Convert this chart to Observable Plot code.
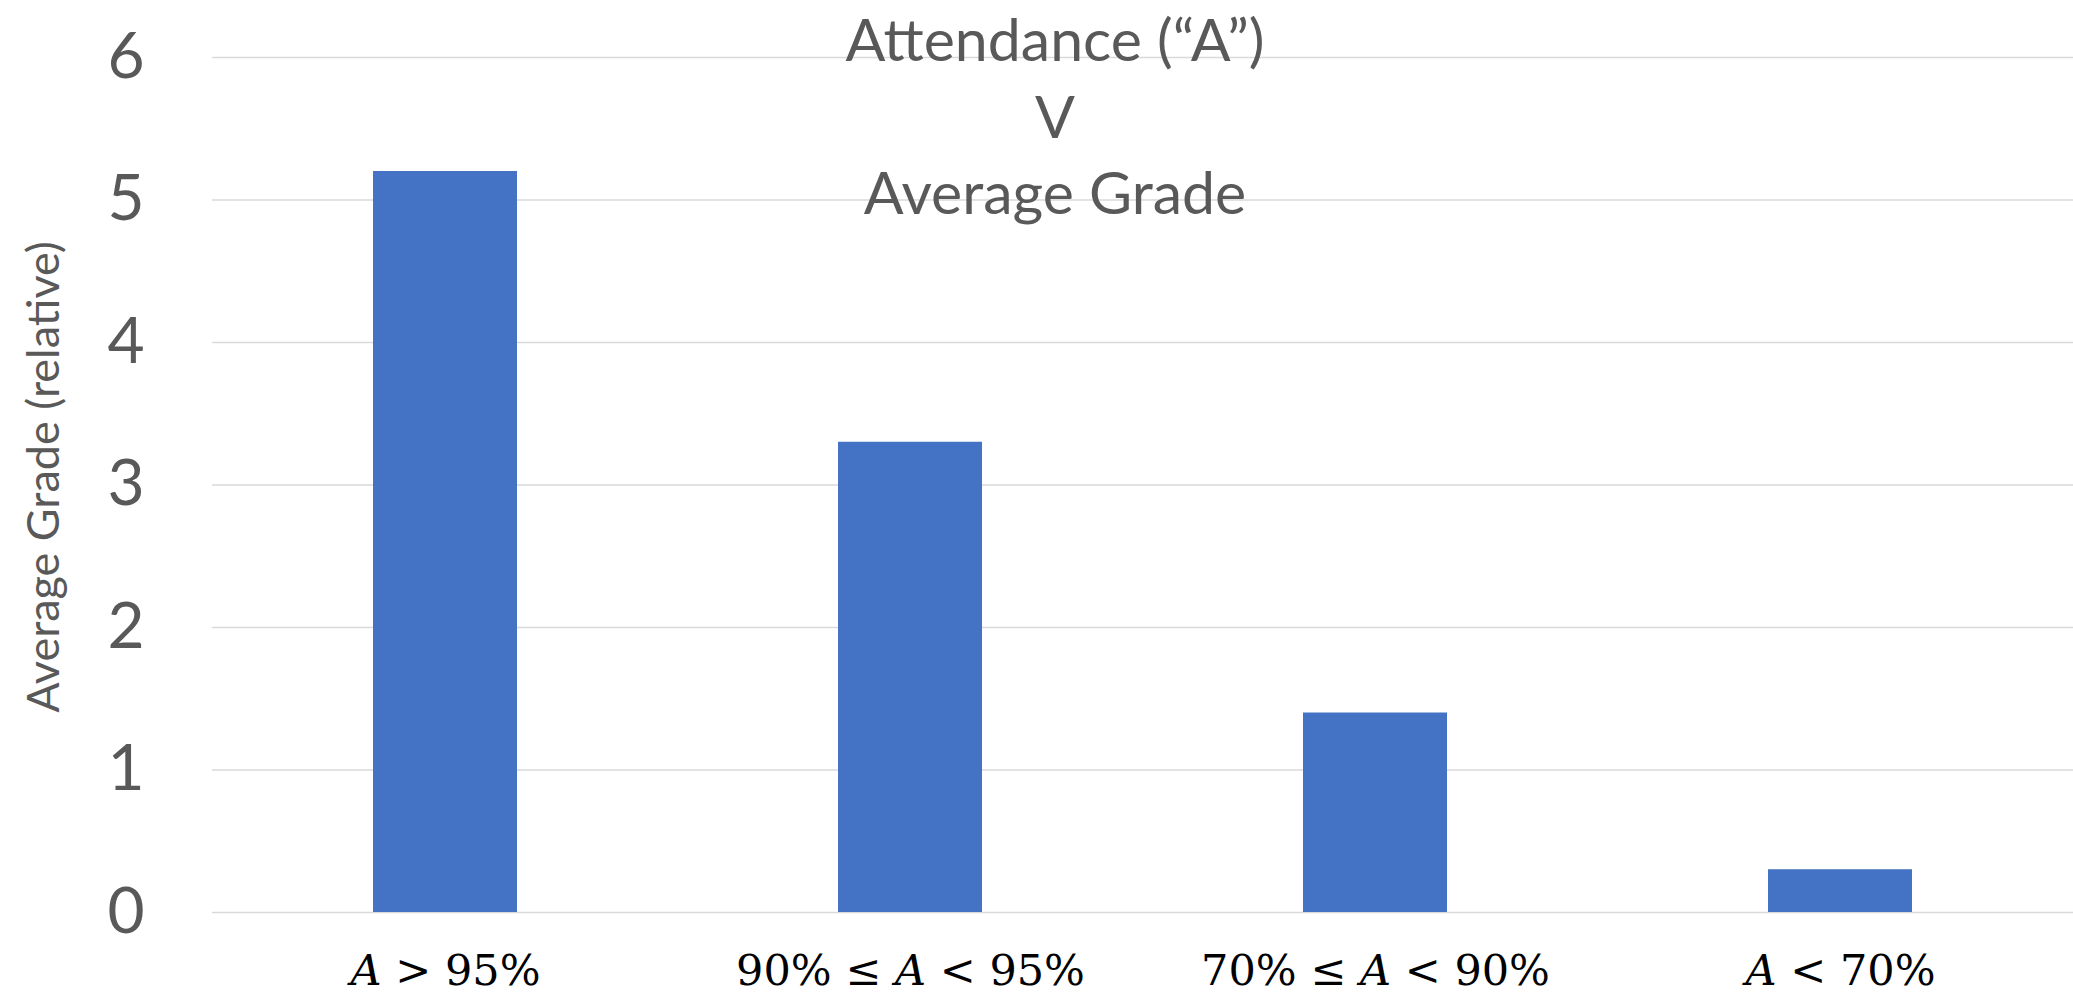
<!DOCTYPE html>
<html>
<head>
<meta charset="utf-8">
<script src="https://cdn.jsdelivr.net/npm/d3@7"></script>
<script src="https://cdn.jsdelivr.net/npm/@observablehq/plot@0.6"></script>
<style>
  html, body { margin: 0; padding: 0; background: #fff; }
  #chart svg { display: block; }
</style>
</head>
<body>
<div id="chart"></div>
<script>
const categories = ["𝐴 > 95%", "90% ≤ 𝐴 < 95%", "70% ≤ 𝐴 < 90%", "𝐴 < 70%"];
const values = [5.2, 3.3, 1.4, 0.3];
const yTicks = [0, 1, 2, 3, 4, 5, 6];
const titleLines = ["Attendance (“A”)", "V", "Average Grade"];
const yLabel = "Average Grade (relative)";

const data = categories.map((c, i) => ({category: c, value: values[i]}));
const sans = "Lato, 'Open Sans', sans-serif";

const chart = Plot.plot({
  width: 2073,
  height: 1001,
  marginLeft: 212,
  marginRight: 0,
  marginTop: 57,
  marginBottom: 89,
  style: {background: "#fff"},
  x: {domain: categories, paddingInner: 0.69, paddingOuter: 0.345, label: null},
  y: {domain: [0, 6], label: null},
  marks: [
    Plot.gridY(yTicks, {stroke: "#D9D9D9", strokeOpacity: 1, strokeWidth: 1.6}),
    Plot.barY(data, {x: "category", y: "value", fill: "#4472C4"}),
    Plot.axisY(yTicks, {tickSize: 0, tickPadding: 68, tickFormat: d => String(d), fontSize: 64, fill: "#595959", fontFamily: sans, label: null}),
    Plot.axisX({tickSize: 0, tickPadding: 42, fontSize: 43, fill: "#000", fontFamily: "'DejaVu Serif', 'Liberation Serif', serif", label: null}),
    Plot.text([yLabel], {frameAnchor: "left", textAnchor: "middle", rotate: -90, dx: -168, dy: -8, fontSize: 45, fill: "#595959", fontFamily: sans}),
    Plot.text([titleLines.join("\n")], {frameAnchor: "top", lineAnchor: "top", dx: -88, dy: -51, lineHeight: 1.30, fontSize: 59, fill: "#595959", fontFamily: sans})
  ]
});
document.getElementById("chart").append(chart);
</script>
</body>
</html>
